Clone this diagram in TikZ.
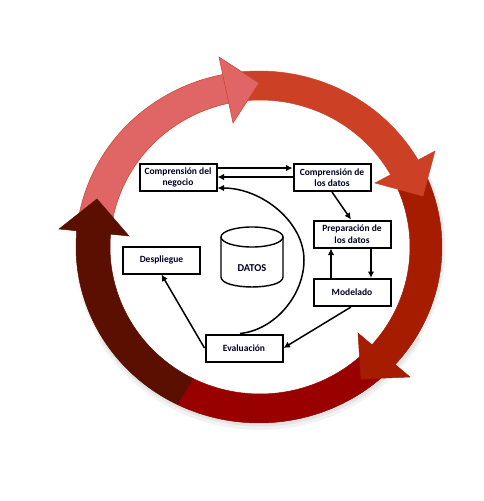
\documentclass[tikz,border=0pt]{standalone}
\usepackage{fontspec}
\setmainfont{Carlito}
\usetikzlibrary{arrows.meta,calc}
\definecolor{cpink}{HTML}{E06666}
\definecolor{corange}{HTML}{CC4125}
\definecolor{cred}{HTML}{A61C00}
\definecolor{cdeep}{HTML}{990000}
\definecolor{cdark}{HTML}{5B0F00}
\newcommand{\ringseg}[4]{% colour, edge, start, end
  \filldraw[fill=#1,draw=#2,line width=0.5pt]
    plot[domain=#3:#4,samples=50] ({259+183*cos(\x)},{247+176*sin(\x)})
    -- plot[domain=#4:#3,samples=50] ({260+150*cos(\x)},{247+147*sin(\x)}) -- cycle;}
\tikzset{
  stepbox/.style={draw=black,line width=2pt,fill=white,inner sep=0pt,
    minimum width=77pt,minimum height=27pt,align=center,
    font=\fontsize{9.5}{11.5}\selectfont\bfseries,text=black!85!blue},
  link/.style={draw=black,line width=1.5pt,-{Latex[length=6.5pt,width=6.5pt]}}
}
\begin{document}
\begin{tikzpicture}[x=1pt,y=-1pt]
\useasboundingbox (0,0) rectangle (483,501);
% faint shadow of the ring
\draw[black,opacity=0.05,line width=6pt] plot[domain=30:150,samples=50] ({260+184*cos(\x)},{249+178*sin(\x)});
\draw[black,opacity=0.06,line width=3pt] plot[domain=-30:170,samples=60] ({260+184*cos(\x)},{248+177*sin(\x)});
% ring
\ringseg{cdeep}{cdeep}{45}{116.5}
\ringseg{cred}{cred}{335}{405}
\filldraw[fill=cred,draw=cred,line width=0.5pt] (358,333) -- (410,377) -- (361,379) -- cycle;
\ringseg{corange}{corange}{265}{335}
\filldraw[fill=corange,draw=corange,line width=0.5pt] (435,151) -- (375,183) -- (423,196) -- cycle;
\ringseg{cpink}{corange}{185}{265}
\filldraw[fill=cpink,draw=corange,line width=0.5pt] (219,57) -- (259,83) -- (233,123) -- cycle;
\ringseg{cdark}{cdark}{116.5}{186}
\filldraw[fill=cdark,draw=cdark,line width=0.5pt] (59,229) -- (97,199) -- (129,236) -- cycle;
% boxes
\node[stepbox] (neg) at (178,177.5) {Comprensión del\\negocio};
\node[stepbox] (dat) at (332,177.5) {Comprensión de\\los datos};
\node[stepbox] (pre) at (352,234) {Preparación de\\los datos};
\node[stepbox] (mod) at (352,292.5) {Modelado};
\node[stepbox] (eva) at (244,348) {Evaluación};
\node[stepbox] (des) at (161.5,260) {Despliegue};
% cylinder
\draw[line width=1.4pt,fill=white] (221,237) -- (221,277) .. controls (221,290.3) and (283,290.3) .. (283,277) -- (283,237);
\draw[line width=1.4pt,fill=white] (252,237) ellipse[x radius=31,y radius=10];
\node[font=\fontsize{10.5}{12}\selectfont\bfseries,text=black!85!blue,inner sep=0pt] (cyl) at (252,268) {DATOS};
% connectors
\draw[link] ([yshift=9.5pt]neg.east) -- ([yshift=9.5pt]dat.west);
\draw[link] ([yshift=0.5pt]dat.west) -- ([yshift=0.5pt]neg.east);
\draw[link] ([xshift=-4pt]eva.north) .. controls (275,330) and (304,295) .. (304,260)
   .. controls (304,222) and (262,188) .. ([yshift=-10.5pt]neg.east);
\draw[link] ([xshift=0pt]dat.south) -- ([xshift=-1pt]pre.north);
\draw[link] ([xshift=-21pt]mod.north) -- ([xshift=-21pt]pre.south);
\draw[link] ([xshift=19pt]pre.south) -- ([xshift=19pt]mod.north);
\draw[link] ([xshift=-1pt]mod.south) -- (eva.east);
\draw[link] (eva.west) -- (des.south);
\end{tikzpicture}
\end{document}
